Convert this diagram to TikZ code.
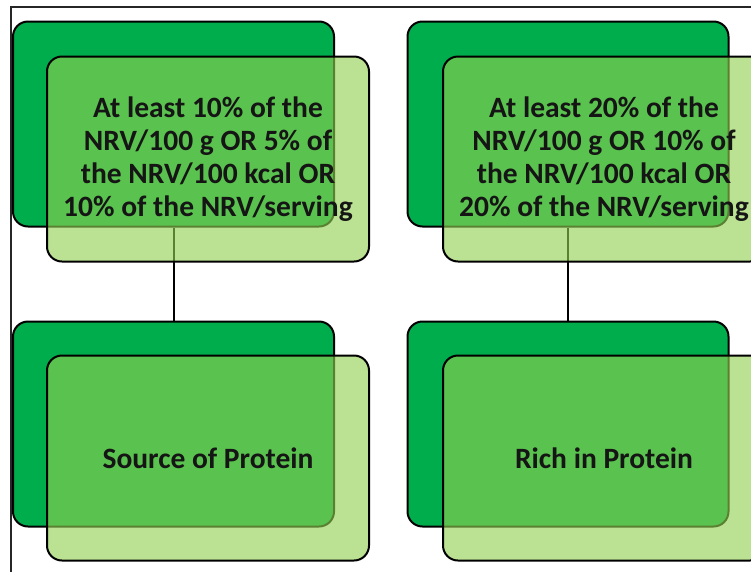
\documentclass[tikz,border=0pt]{standalone}
\usepackage{fontspec}
\setmainfont{Carlito}
\definecolor{darkg}{HTML}{00AD4C}
\definecolor{lightg}{HTML}{92D050}
\definecolor{txt}{HTML}{151515}
\begin{document}
\begin{tikzpicture}[x=1pt,y=-1pt,
  backbox/.style={draw=black, line width=2pt, fill=darkg, rounded corners=15pt,
    minimum width=321pt, minimum height=205pt, inner sep=0pt},
  frontbox/.style={draw=black, line width=2pt, fill=lightg, fill opacity=0.62,
    text opacity=1, rounded corners=15pt, minimum width=322pt, minimum height=205pt,
    inner sep=0pt, align=center, text=txt, font=\fontsize{29.5}{33}\selectfont\bfseries},
  link/.style={draw=black, line width=2pt}
]
\useasboundingbox (0,0) rectangle (751,571);
\clip (0,0) rectangle (751,571);
\draw[line width=1.5pt, draw=black!85] (11,7) rectangle (800,620);
% back boxes
\node[backbox] (b1) at (173.5,124) {};
\node[backbox] (b2) at (568,124) {};
\node[backbox] (b3) at (173.5,424) {};
\node[backbox] (b4) at (568,424) {};
% connectors
\draw[link] (b1.south) -- (b3.north);
\draw[link] (b2.south) -- (b4.north);
% front boxes
\node[frontbox] (f1) at (208,159) {At least 10\% of the\\NRV/100 g OR 5\% of\\the NRV/100 kcal OR\\10\% of the NRV/serving};
\node[frontbox] (f2) at (604,159) {At least 20\% of the\\NRV/100 g OR 10\% of\\the NRV/100 kcal OR\\20\% of the NRV/serving};
\node[frontbox] (f3) at (208,458) {Source of Protein};
\node[frontbox] (f4) at (604,458) {Rich in Protein};
\end{tikzpicture}
\end{document}
